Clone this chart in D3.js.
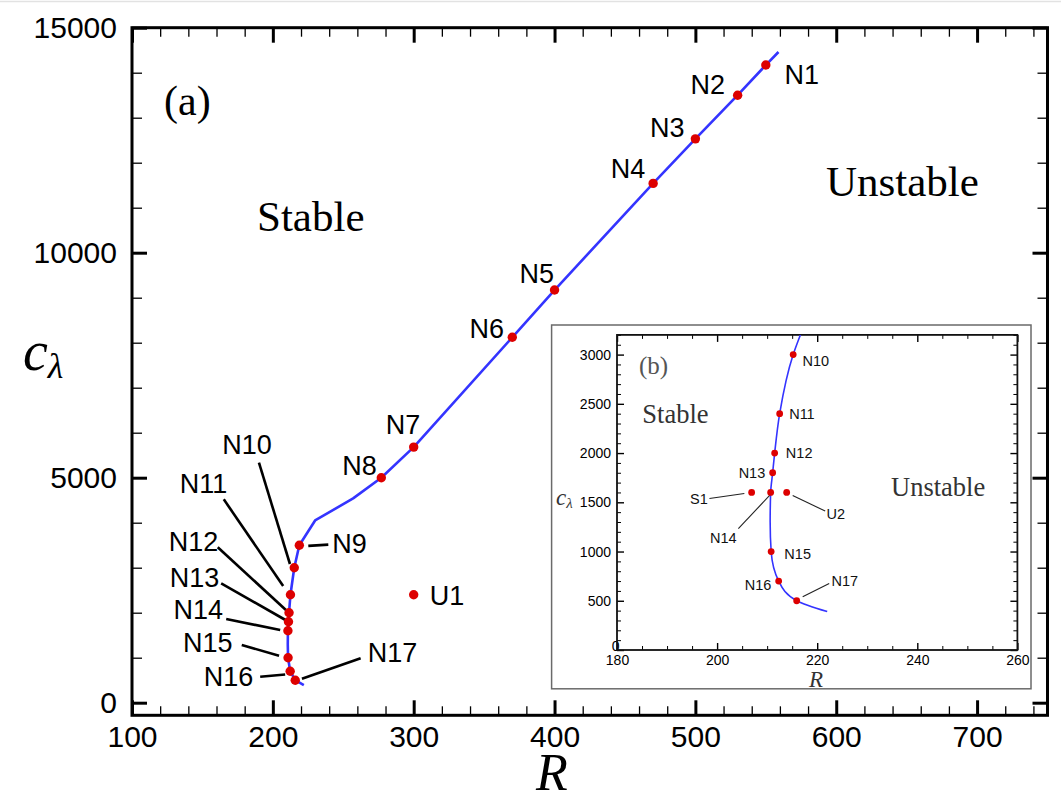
<!DOCTYPE html>
<html>
<head>
<meta charset="utf-8">
<script src="https://cdn.jsdelivr.net/npm/d3@7"></script>
<style>
  html, body { margin: 0; padding: 0; background: #fff; }
  svg { display: block; }
  .sans { font-family: "Liberation Sans", Arial, Helvetica, sans-serif; }
  .serif { font-family: "Liberation Serif", "Times New Roman", serif; }
</style>
</head>
<body>
<svg id="chart" width="1061" height="803"></svg>
<script>
// Neutral curve c_lambda(R) separating the stable and unstable regions
const curveR = [559, 550, 530, 500, 470, 400, 370, 300, 277, 257, 230, 218.8, 217, 215.2, 212.5, 211.5, 211.1, 210.7, 210.6, 210.8, 212.3, 215.9, 222];
const curveC = [14460, 14170, 13500, 12530, 11540, 9170, 8120, 5680, 5000, 4540, 4050, 3500, 3250, 3000, 2400, 2000, 1800, 1600, 1300, 1000, 700, 500, 390];

// Marked cases in panel (a)
const mainNames = ["N1", "N2", "N3", "N4", "N5", "N6", "N7", "N8", "N9", "N10", "N11", "N12", "N13", "N14", "N15", "N16", "N17", "U1"];
const mainR = [550, 530, 500, 470, 400, 370, 300, 277, 218.8, 215.2, 212.5, 211.5, 211.1, 210.7, 210.8, 212.3, 215.9, 300];
const mainC = [14170, 13500, 12530, 11540, 9170, 8120, 5680, 5000, 3500, 3000, 2400, 2000, 1800, 1600, 1000, 700, 500, 2400];

// Marked cases in the zoomed panel (b)
const insetNames = ["N10", "N11", "N12", "N13", "N14", "S1", "U2", "N15", "N16", "N17"];
const insetR = [215.2, 212.5, 211.5, 211.1, 210.7, 206.9, 213.9, 210.8, 212.3, 215.9];
const insetC = [3000, 2400, 2000, 1800, 1600, 1600, 1600, 1000, 700, 500];

// Axis ticks
const mainXTicks = [100, 200, 300, 400, 500, 600, 700];
const mainYTicks = [0, 5000, 10000, 15000];
const insetXTicks = [180, 200, 220, 240, 260];
const insetYTicks = [0, 500, 1000, 1500, 2000, 2500, 3000];

// Label placement relative to each point: [dx, dy, anchor, leader from dx,dy to dx,dy]
const mainLabelLayout = {
  N1: [18.7, 18.7, "start"], N2: [-12.7, -1, "end"], N3: [-10.8, -2, "end"],
  N4: [-7.8, -5.3, "end"], N5: [-0.5, -6.7, "end"], N6: [-8.2, 1, "end"],
  N7: [6.5, -13, "end"], N8: [-4.5, -2.7, "end"],
  N9: [33, 7.4, "start", [9, 0.7, 29, -0.6]],
  N10: [-72, -113.7, "start", [-35.3, -105, -4.3, -3.7]],
  N11: [-110.7, -101.4, "start", [-66.7, -95.4, -7.3, -8.7]],
  N12: [-120.3, -61.4, "start", [-71.3, -65.4, -2.3, -2]],
  N13: [-118.7, -35, "start", [-67.3, -38.4, -3, -1.7]],
  N14: [-114.4, -11.7, "start", [-61.7, -11.7, -7.7, -0.7]],
  N15: [-105, -5.4, "start", [-46.3, -12.7, -9, -2]],
  N16: [-86.3, 15, "start", [-30, 5.6, -5, 3.3]],
  N17: [72.4, -18, "start", [6.7, -1.4, 65.4, -22]],
  U1: [16, 10.5, "start"]
};
const insetLabelLayout = {
  N10: [9.3, 11.2, "start"], N11: [9.5, 5.3, "start"], N12: [11.2, 4.9, "start"],
  N13: [-7.4, 5, "end"],
  N14: [-60.6, 50.2, "start", [-32.3, 36.2, -0.8, 2.7]],
  S1: [-43.8, 12, "end", [-42.2, 6, -7.3, 1]],
  U2: [39.9, 26.9, "start", [6, 3, 38.5, 18.6]],
  N15: [13.2, 7, "start"], N16: [-7.3, 8.7, "end"],
  N17: [34.9, -14.4, "start", [6, -4.1, 32.5, -17.3]]
};

const LINE_BLUE = "#3434ff";
const DOT_RED = "#dd0000";
const fmt = d3.format("d");

const svg = d3.select("#chart");

// faint rule along the top edge
svg.append("line").attr("x1", 0).attr("x2", 1061).attr("y1", 1.5).attr("y2", 1.5)
  .attr("stroke", "#e2e2e2").attr("stroke-width", 1.5);

// ---------- panel (a) ----------
const x = d3.scaleLinear().domain([100, 750]).range([132, 1047.5]);
const y = d3.scaleLinear().domain([-280, 15000]).range([715.3, 27.7]);

const pts = curveR.map((r, i) => [r, curveC[i]]);
// full view: straight segments keep the sharp bend near R = 230
const line = d3.line().x(d => x(d[0])).y(d => y(d[1])).curve(d3.curveLinear);

function drawTicks(g, axisFn, scale, values, size, width, labels, padding, fontSize) {
  const a = axisFn(scale).tickValues(values).tickSizeInner(-size).tickSizeOuter(0)
    .tickPadding(padding || 0).tickFormat(labels ? fmt : "");
  const sel = g.append("g").call(a);
  sel.select(".domain").remove();
  sel.selectAll(".tick line").attr("stroke", "#000").attr("stroke-width", width);
  sel.selectAll(".tick text").attr("fill", "#000").attr("font-size", fontSize)
    .attr("font-family", "Liberation Sans, Arial, sans-serif");
  return sel;
}

const ga = svg.append("g");
const xMinor = d3.range(100, 751, 20).filter(v => v % 100 !== 0);
const yMinor = d3.range(0, 15001, 1000).filter(v => v % 5000 !== 0);

const gBottom = ga.append("g").attr("transform", `translate(0,${y.range()[0]})`);
drawTicks(gBottom, d3.axisBottom, x, mainXTicks, 15, 3, true, 10.5, 30);
drawTicks(gBottom, d3.axisBottom, x, xMinor, 9, 1.3, false);
const gTop = ga.append("g").attr("transform", `translate(0,${y.range()[1]})`);
drawTicks(gTop, d3.axisTop, x, mainXTicks, 15, 3, false);
drawTicks(gTop, d3.axisTop, x, xMinor, 9, 1.3, false);
const gLeft = ga.append("g").attr("transform", `translate(${x.range()[0]},0)`);
drawTicks(gLeft, d3.axisLeft, y, mainYTicks, 15, 3, true, 15, 30);
drawTicks(gLeft, d3.axisLeft, y, yMinor, 10, 1.3, false);
const gRight = ga.append("g").attr("transform", `translate(${x.range()[1]},0)`);
drawTicks(gRight, d3.axisRight, y, mainYTicks, 15, 3, false);
drawTicks(gRight, d3.axisRight, y, yMinor, 10, 1.3, false);

ga.append("rect")
  .attr("x", x.range()[0]).attr("y", y.range()[1])
  .attr("width", x.range()[1] - x.range()[0]).attr("height", y.range()[0] - y.range()[1])
  .attr("fill", "none").attr("stroke", "#000").attr("stroke-width", 3);

// axis titles
svg.append("text").attr("class", "serif").attr("x", 536).attr("y", 790)
  .attr("font-size", 52).attr("font-style", "italic").text("R");
const yl = svg.append("text").attr("class", "serif").attr("x", 23).attr("y", 370);
yl.append("tspan").attr("font-size", 56).attr("font-style", "italic").text("c");
yl.append("tspan").attr("font-size", 36).attr("font-style", "italic").attr("dy", 8).text("λ");

// region and panel labels
svg.append("text").attr("class", "serif").attr("x", 164).attr("y", 115).attr("font-size", 42).text("(a)");
svg.append("text").attr("class", "serif").attr("x", 257).attr("y", 231).attr("font-size", 43).text("Stable");
svg.append("text").attr("class", "serif").attr("x", 826).attr("y", 195.7).attr("font-size", 43).text("Unstable");

// curve
svg.append("path").datum(pts).attr("d", line)
  .attr("fill", "none").attr("stroke", LINE_BLUE).attr("stroke-width", 2.6)
  .attr("stroke-linejoin", "round");

// leaders, points, labels
const mainG = svg.append("g");
mainNames.forEach((n, i) => {
  const px = x(mainR[i]), py = y(mainC[i]);
  const L = mainLabelLayout[n];
  if (L[3]) {
    mainG.append("line")
      .attr("x1", px + L[3][0]).attr("y1", py + L[3][1])
      .attr("x2", px + L[3][2]).attr("y2", py + L[3][3])
      .attr("stroke", "#000").attr("stroke-width", 2.6);
  }
});
mainNames.forEach((n, i) => {
  mainG.append("circle").attr("cx", x(mainR[i])).attr("cy", y(mainC[i])).attr("r", 4.7).attr("fill", DOT_RED);
});
mainNames.forEach((n, i) => {
  const L = mainLabelLayout[n];
  mainG.append("text").attr("class", "sans")
    .attr("x", x(mainR[i]) + L[0]).attr("y", y(mainC[i]) + L[1])
    .attr("text-anchor", L[2]).attr("font-size", 27).text(n);
});

// ---------- panel (b) ----------
const box = { x0: 551.6, y0: 325, x1: 1031, y1: 688.8 };
svg.append("rect").attr("x", box.x0).attr("y", box.y0)
  .attr("width", box.x1 - box.x0).attr("height", box.y1 - box.y0)
  .attr("fill", "#fff").attr("stroke", "#6a6a6a").attr("stroke-width", 1.5);

const xi = d3.scaleLinear().domain([180, 260]).range([617, 1017.4]);
const yi = d3.scaleLinear().domain([0, 3200]).range([650, 334.9]);
const gi = svg.append("g");

svg.append("clipPath").attr("id", "insetClip").append("rect")
  .attr("x", xi.range()[0]).attr("y", yi.range()[1])
  .attr("width", xi.range()[1] - xi.range()[0]).attr("height", yi.range()[0] - yi.range()[1]);

const xiMinor = d3.range(180, 261, 5).filter(v => v % 20 !== 0);
const yiMinor = d3.range(0, 3201, 100).filter(v => v % 500 !== 0);

const giB = gi.append("g").attr("transform", `translate(0,${yi.range()[0]})`);
drawTicks(giB, d3.axisBottom, xi, insetXTicks, 7, 1.4, true, 5.5, 14);
drawTicks(giB, d3.axisBottom, xi, xiMinor, 4, 1, false);
const giT = gi.append("g").attr("transform", `translate(0,${yi.range()[1]})`);
drawTicks(giT, d3.axisTop, xi, insetXTicks, 7, 1.4, false);
drawTicks(giT, d3.axisTop, xi, xiMinor, 4, 1, false);
const giL = gi.append("g").attr("transform", `translate(${xi.range()[0]},0)`);
const giLab = drawTicks(giL, d3.axisLeft, yi, insetYTicks, 7, 1.4, true, 6, 14);
// the zero label sits tucked against the corner
giLab.selectAll(".tick").filter(d => d === 0).select("text").attr("x", 2.5).attr("dy", "0.05em");
drawTicks(giL, d3.axisLeft, yi, yiMinor, 4, 1, false);
const giR = gi.append("g").attr("transform", `translate(${xi.range()[1]},0)`);
drawTicks(giR, d3.axisRight, yi, insetYTicks, 7, 1.4, false);
drawTicks(giR, d3.axisRight, yi, yiMinor, 4, 1, false);

gi.append("rect")
  .attr("x", xi.range()[0]).attr("y", yi.range()[1])
  .attr("width", xi.range()[1] - xi.range()[0]).attr("height", yi.range()[0] - yi.range()[1])
  .attr("fill", "none").attr("stroke", "#111").attr("stroke-width", 1.8);

svg.append("text").attr("class", "serif").attr("x", 809).attr("y", 687)
  .attr("font-size", 23).attr("font-style", "italic").attr("fill", "#333").text("R");
const yli = svg.append("text").attr("class", "serif").attr("x", 556).attr("y", 505).attr("fill", "#333");
yli.append("tspan").attr("font-size", 23).attr("font-style", "italic").text("c");
yli.append("tspan").attr("font-size", 15).attr("font-style", "italic").attr("dy", 3).text("λ");

svg.append("text").attr("class", "serif").attr("x", 639).attr("y", 374).attr("font-size", 25).attr("fill", "#555").text("(b)");
svg.append("text").attr("class", "serif").attr("x", 642.3).attr("y", 423).attr("font-size", 26.5).attr("fill", "#333").text("Stable");
svg.append("text").attr("class", "serif").attr("x", 891).attr("y", 496).attr("font-size", 26.5).attr("fill", "#333").text("Unstable");

// zoomed view: c falls monotonically along the branch, so a y-monotone spline gives a smooth trace
const lineIn = d3.line().x(d => xi(d[0])).y(d => yi(d[1])).curve(d3.curveMonotoneY);
svg.append("path").datum(pts).attr("d", lineIn).attr("clip-path", "url(#insetClip)")
  .attr("fill", "none").attr("stroke", LINE_BLUE).attr("stroke-width", 1.6);

const inG = svg.append("g");
insetNames.forEach((n, i) => {
  const px = xi(insetR[i]), py = yi(insetC[i]);
  const L = insetLabelLayout[n];
  if (L[3]) {
    inG.append("line")
      .attr("x1", px + L[3][0]).attr("y1", py + L[3][1])
      .attr("x2", px + L[3][2]).attr("y2", py + L[3][3])
      .attr("stroke", "#222").attr("stroke-width", 1.1);
  }
});
insetNames.forEach((n, i) => {
  inG.append("circle").attr("cx", xi(insetR[i])).attr("cy", yi(insetC[i])).attr("r", 3.4).attr("fill", DOT_RED);
});
insetNames.forEach((n, i) => {
  const L = insetLabelLayout[n];
  inG.append("text").attr("class", "sans")
    .attr("x", xi(insetR[i]) + L[0]).attr("y", yi(insetC[i]) + L[1])
    .attr("text-anchor", L[2]).attr("font-size", 14.5).attr("fill", "#111").text(n);
});
</script>
</body>
</html>
